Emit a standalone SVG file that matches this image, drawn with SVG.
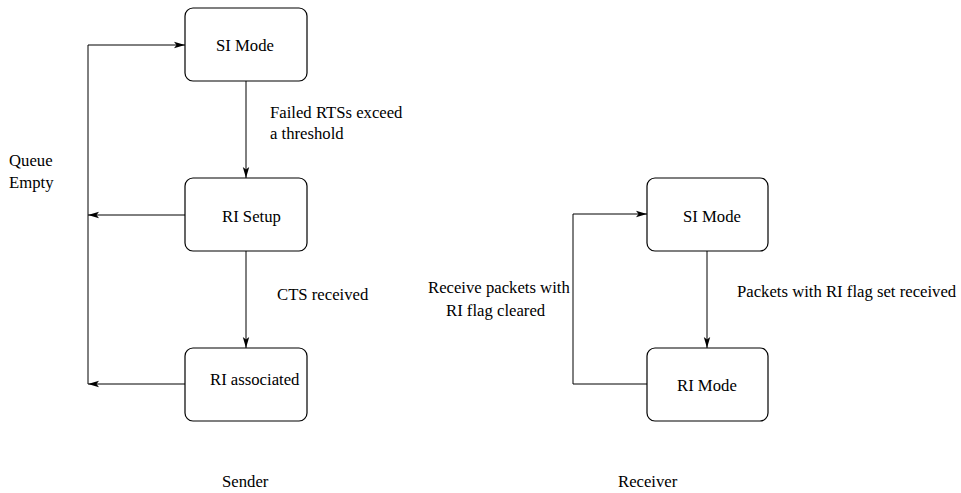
<svg xmlns="http://www.w3.org/2000/svg" width="961" height="493" viewBox="0 0 961 493" font-family="'Liberation Serif', 'Times New Roman', Times, serif" font-size="16.7">
<style>
.box{fill:#fff;stroke:#000;stroke-width:1.2}
.ln{fill:none;stroke:#000;stroke-width:1}
</style>
<defs>
<marker id="ah" markerUnits="userSpaceOnUse" markerWidth="12" markerHeight="8" refX="11" refY="4" orient="auto">
<path d="M0,0.8 L11,4 L0,7.2 L2.5,4 Z" fill="#000"/>
</marker>
</defs>
<rect width="961" height="493" fill="#fff"/>
<g id="connectors">
<polyline class="ln" points="88,384 88,45 185,45" marker-end="url(#ah)"/>
<line class="ln" x1="185" y1="215" x2="88" y2="215" marker-end="url(#ah)"/>
<line class="ln" x1="185" y1="384" x2="88" y2="384" marker-end="url(#ah)"/>
<line class="ln" x1="246" y1="81" x2="246" y2="178" marker-end="url(#ah)"/>
<line class="ln" x1="246" y1="251" x2="246" y2="348" marker-end="url(#ah)"/>
<line class="ln" x1="707" y1="251" x2="707" y2="348" marker-end="url(#ah)"/>
<polyline class="ln" points="647,384 573,384 573,214 647,214" marker-end="url(#ah)"/>
<text x="270" y="118">Failed RTSs exceed</text>
<text x="270" y="139">a threshold</text>
<text x="9" y="166">Queue</text>
<text x="9" y="188">Empty</text>
<text x="277" y="300">CTS received</text>
<text x="428" y="293">Receive packets with</text>
<text x="446" y="316">RI flag cleared</text>
<text x="737" y="297">Packets with RI flag set received</text>
</g>
<g id="s-si">
<rect class="box" x="185" y="8" width="122" height="73" rx="8"/>
<text x="216" y="51">SI Mode</text>
</g>
<g id="s-setup">
<rect class="box" x="185" y="178" width="122" height="73" rx="8"/>
<text x="222" y="222">RI Setup</text>
</g>
<g id="s-assoc">
<rect class="box" x="185" y="348" width="122" height="73" rx="8"/>
<text x="210" y="385">RI associated</text>
</g>
<g id="r-si">
<rect class="box" x="647" y="178" width="121" height="73" rx="8"/>
<text x="683" y="222">SI Mode</text>
</g>
<g id="r-ri">
<rect class="box" x="647" y="348" width="121" height="73" rx="8"/>
<text x="677" y="391">RI Mode</text>
</g>
<g id="labels">
<text x="222" y="487">Sender</text>
<text x="618" y="487">Receiver</text>
</g>
</svg>
